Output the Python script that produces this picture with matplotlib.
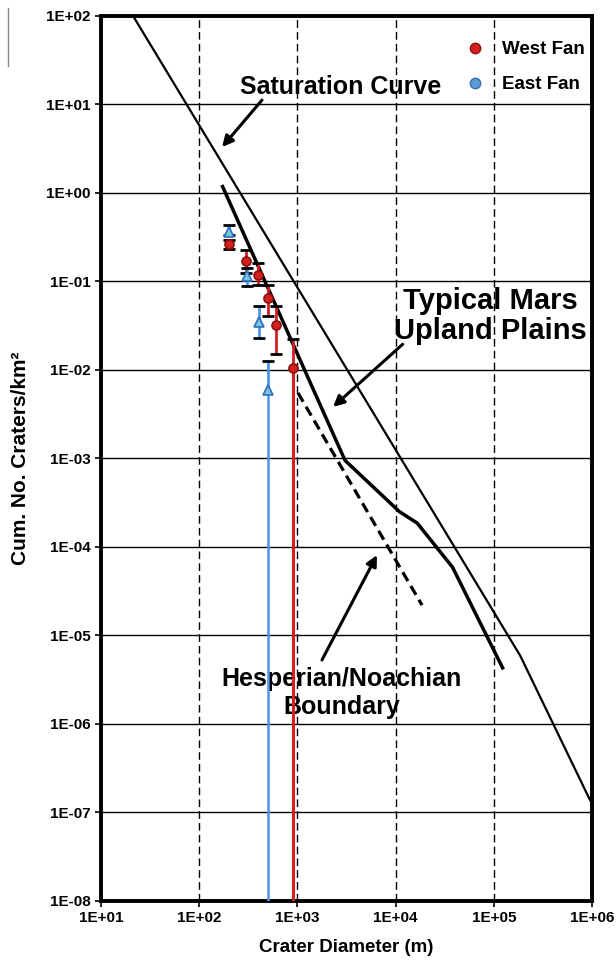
import numpy as np
import matplotlib
matplotlib.use('Agg')
import matplotlib.pyplot as plt
from matplotlib.lines import Line2D
from matplotlib.ticker import FixedLocator, FuncFormatter, NullLocator

plt.rcParams['font.family'] = ['Liberation Sans', 'DejaVu Sans']
plt.rcParams['font.weight'] = 'bold'

# Curvas de referencia (diametro en m, densidad acumulada por km2)
sat_d = [21.2, 1.86e5, 9.55e5]
sat_n = [100.0, 5.9e-6, 1.38e-7]

upland_d = [173, 3055, 10960, 16600, 38000, 123000]
upland_n = [1.18, 9.5e-4, 2.5e-4, 1.86e-4, 5.9e-5, 4.3e-6]

hn_d = [1014, 18580]
hn_n = [5.5e-3, 2.2e-5]

# Abanico oeste (rojo)
west_d = [202, 300, 398, 498, 605, 912]
west_n = [0.262, 0.170, 0.118, 0.065, 0.0318, 0.01055]
west_hi = [0.294, 0.226, 0.162, 0.091, 0.0522, 0.0222]
west_lo = [0.233, 0.125, 0.091, 0.041, 0.0150, None]

# Abanico este (azul)
east_d = [202, 305, 406, 501]
east_n = [0.366, 0.115, 0.0348, 0.0060]
east_hi = [0.436, 0.142, 0.0522, 0.01265]
east_lo = [0.335, 0.089, 0.0227, None]

x_ticks = [1e1, 1e2, 1e3, 1e4, 1e5, 1e6]
y_ticks = [1e-8, 1e-7, 1e-6, 1e-5, 1e-4, 1e-3, 1e-2, 1e-1, 1e0, 1e1, 1e2]

red = '#d21f1f'
red_edge = '#8b1010'
blue_line = '#4f95ea'
blue_fill = '#79c4d8'
blue_edge = '#2f6fc4'

fig = plt.figure(figsize=(6.16, 9.6), dpi=100)
ax = fig.add_axes([0.164, 0.0615, 0.797, 0.9219])
ax.set_xscale('log')
ax.set_yscale('log')
ax.set_xlim(1e1, 1e6)
ax.set_ylim(1e-8, 1e2)

# Cuadricula: horizontales solidas, verticales discontinuas
for yv in y_ticks[1:-1]:
    ax.axhline(yv, color='black', lw=1.0, zorder=1)
for xv in x_ticks[1:-1]:
    ax.axvline(xv, color='black', lw=1.0, ls=(0, (5.5, 3)), zorder=1)

# Curvas
ax.plot(sat_d, sat_n, color='black', lw=1.6, zorder=3)
ax.plot(upland_d, upland_n, color='black', lw=2.5, zorder=3)
ax.plot(hn_d, hn_n, color='black', lw=2.3, ls=(0, (3.2, 1.8)), zorder=3)


def draw_fan(d, n, hi, lo, line_color, marker, fill, edge, ms, lw_long):
    '''Dibuja los puntos con barras de error; sin limite inferior se baja hasta el eje'''
    for di, ni, h, l in zip(d, n, hi, lo):
        if l is None:
            ax.vlines(di, 1e-8, ni, color=line_color, lw=lw_long, zorder=4)
            yerr = [[0], [h - ni]]
            caps = [h]
        else:
            yerr = [[ni - l], [h - ni]]
            caps = [h, l]
        ax.errorbar([di], [ni], yerr=yerr, fmt='none', ecolor=line_color,
                    elinewidth=2.0, capsize=0, zorder=4)
        ax.plot([di] * len(caps), caps, ls='none', marker='_', color='black',
                ms=8, mew=2.0, zorder=5)
    ax.plot(d, n, ls='none', marker=marker, ms=ms, mfc=fill, mec=edge,
            mew=1.2, zorder=6)


draw_fan(west_d, west_n, west_hi, west_lo, red, 'o', red, red_edge, 6.5, 2.2)
draw_fan(east_d, east_n, east_hi, east_lo, blue_line, '^', blue_fill,
         blue_edge, 7, 1.8)

# Leyenda
handles = [Line2D([], [], ls='none', marker='o', ms=7.5, mfc=red, mec=red_edge),
           Line2D([], [], ls='none', marker='o', ms=7.5, mfc='#5b9bd5', mec='#3a70b0')]
leg = ax.legend(handles, ['West Fan', 'East Fan'], loc='upper right',
                bbox_to_anchor=(1.008, 0.984), frameon=False, fontsize=13.5,
                handlelength=1.0, handletextpad=0.95, labelspacing=0.95,
                borderaxespad=0.2)

# Anotaciones
arrow = dict(arrowstyle='-|>', color='black', lw=2.2, mutation_scale=16,
             shrinkA=0, shrinkB=0)
ax.text(2780, 15.8, 'Saturation Curve', fontsize=18, ha='center', va='center')
ax.annotate('', xy=(171, 3.3), xytext=(436, 11.2), arrowprops=arrow)

ax.text(93000, 0.0405, 'Typical Mars\nUpland Plains', fontsize=21, ha='center',
        va='center', linespacing=1.1)
ax.annotate('', xy=(2307, 3.82e-3), xytext=(11800, 1.95e-2), arrowprops=arrow)

ax.text(2845, 2.24e-6, 'Hesperian/Noachian\nBoundary', fontsize=18, ha='center',
        va='center', linespacing=1.25)
ax.annotate('', xy=(6460, 8.1e-5), xytext=(1778, 5.28e-6), arrowprops=arrow)

# Ejes
ax.xaxis.set_major_locator(FixedLocator(x_ticks))
ax.yaxis.set_major_locator(FixedLocator(y_ticks))
ax.xaxis.set_minor_locator(NullLocator())
ax.yaxis.set_minor_locator(NullLocator())
fmt = FuncFormatter(lambda v, p: f'{v:.0E}')
ax.xaxis.set_major_formatter(fmt)
ax.yaxis.set_major_formatter(fmt)
ax.tick_params(axis='both', direction='out', length=4, width=1.2, labelsize=11)
for s in ax.spines.values():
    s.set_linewidth(2.8)

ax.set_xlabel('Crater Diameter (m)', fontsize=13.5, fontweight='bold', labelpad=10)
ax.set_ylabel('Cum. No. Craters/km²', fontsize=15, fontweight='bold')
ax.yaxis.set_label_coords(-0.145, 0.5)

# Linea gris del borde izquierdo (presente en la imagen original)
fig.add_artist(Line2D([8 / 616, 8 / 616], [1 - 8 / 960, 1 - 66 / 960],
                      color='#888888', lw=1.0))

fig.savefig('out.png', dpi=100)
